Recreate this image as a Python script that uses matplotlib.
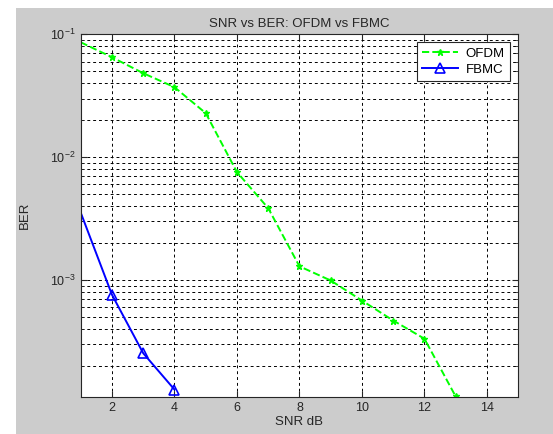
import matplotlib
matplotlib.use("Agg")
import matplotlib.pyplot as plt
from matplotlib.patches import Rectangle
from matplotlib.ticker import LogLocator, NullFormatter

plt.rcParams['font.family'] = ['Liberation Sans', 'DejaVu Sans']
plt.rcParams['mathtext.fontset'] = 'custom'
plt.rcParams['mathtext.rm'] = 'Liberation Sans'

# data
snr_ofdm = [1, 2, 3, 4, 5, 6, 7, 8, 9, 10, 11, 12, 13]
ber_ofdm = [0.0861, 0.065, 0.0482, 0.0371, 0.0228, 0.00754, 0.00384,
            0.00129, 0.000989, 0.000679, 0.000467, 0.000332, 0.0001125]
snr_fbmc = [1, 2, 3, 4]
ber_fbmc = [0.00353, 0.000757, 0.000253, 0.000128]

fig = plt.figure(figsize=(5.53, 4.34), dpi=100, facecolor='white')
# matlab style grey figure area
fig.patches.append(Rectangle((16 / 553, 0), 1, 1 - 8 / 434, transform=fig.transFigure,
                             facecolor='#cccccc', edgecolor='none', zorder=-10))

ax = fig.add_axes([0.146, 0.086, 0.791, 0.835])
ax.set_facecolor('white')

ax.semilogy(snr_ofdm, ber_ofdm, color='#00ff00', linestyle='--', linewidth=1.4,
            marker='*', markersize=4.5, markevery=range(1, len(snr_ofdm)), label='OFDM')
ax.semilogy(snr_fbmc, ber_fbmc, color='#0000ff', linestyle='-', linewidth=1.4,
            marker='^', markersize=7, markerfacecolor='none', markeredgewidth=1.2,
            markevery=range(1, len(snr_fbmc)), label='FBMC')

ax.set_xlim(1, 15)
ax.set_ylim(1.12e-4, 1e-1)
ax.set_xticks([2, 4, 6, 8, 10, 12, 14])
ax.yaxis.set_major_locator(LogLocator(base=10, numticks=10))
ax.yaxis.set_minor_locator(LogLocator(base=10, subs=range(2, 10), numticks=20))
ax.yaxis.set_minor_formatter(NullFormatter())

grid_style = dict(color='black', linestyle=(0, (3, 3)), linewidth=0.7)
ax.grid(True, which='major', axis='both', **grid_style)
ax.grid(True, which='minor', axis='y', **grid_style)
ax.set_axisbelow(True)

ax.tick_params(which='both', direction='in', top=True, right=True, labelsize=9, colors='#262626')
ax.tick_params(which='major', length=4)
ax.tick_params(which='minor', length=2)
for sp in ax.spines.values():
    sp.set_color('#262626')
    sp.set_linewidth(0.8)

ax.set_title('SNR vs BER: OFDM vs FBMC', fontsize=9.5, color='#262626', pad=5)
ax.set_xlabel('SNR dB', fontsize=9.5, color='#262626', labelpad=2)
ax.set_ylabel('BER', fontsize=9.5, color='#262626', labelpad=14)

leg = ax.legend(loc='upper right', fontsize=9.5, fancybox=False, framealpha=1,
                edgecolor='#262626', borderaxespad=0.6, handlelength=2.7,
                borderpad=0.4, labelspacing=0.3, handletextpad=0.6)
leg.get_frame().set_linewidth(0.8)

fig.savefig('out.png', dpi=100, facecolor=fig.get_facecolor())
